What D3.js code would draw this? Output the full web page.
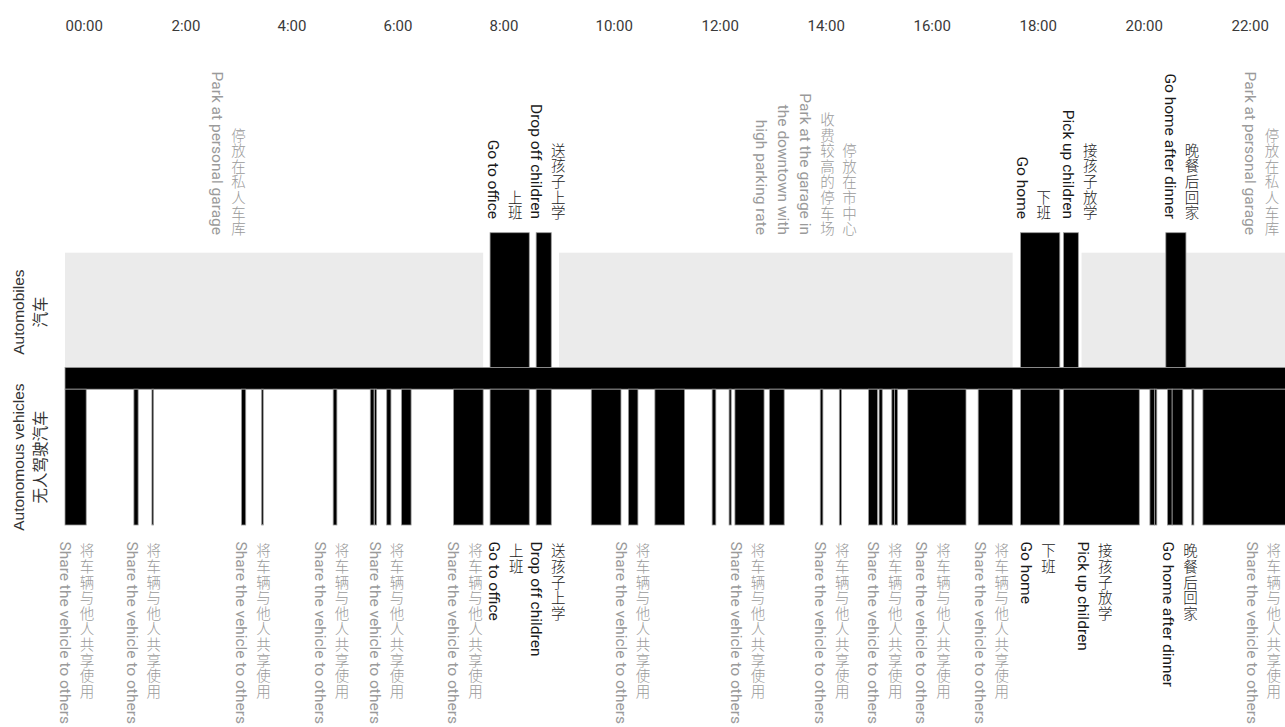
<!DOCTYPE html>
<html>
<head>
<meta charset="utf-8">
<script src="https://cdn.jsdelivr.net/npm/d3@7"></script>
<style>
  body { margin: 0; background: #fff; }
  svg { display: block; }
</style>
</head>
<body>
<svg id="chart"></svg>
<script>
// hours of the day on the axis
const tickHours = [0, 2, 4, 6, 8, 10, 12, 14, 16, 18, 20, 22];
const tickLabels = ["00:00", "2:00", "4:00", "6:00", "8:00", "10:00", "12:00", "14:00", "16:00", "18:00", "20:00", "22:00"];

// row names
const rowNames = [["Automobiles", "汽车"], ["Autonomous vehicles", "无人驾驶汽车"]];

// automobiles: parked (grey) and driving (black), [start, end] in hours
const carParked = [[0, 7.89], [9.32, 17.88], [19.18, 20.77], [21.15, 24]];
const carDriving = [[8.02, 8.76], [8.89, 9.175], [18.03, 18.77], [18.84, 19.12], [20.77, 21.15]];

// autonomous vehicles: busy periods [start, end] in hours
const avBusy = [
  [0, 0.40], [1.30, 1.38], [1.64, 1.67], [3.33, 3.41], [3.71, 3.74],
  [5.06, 5.13], [5.76, 5.83], [5.84, 5.88], [6.07, 6.15], [6.35, 6.53],
  [7.33, 7.89], [8.02, 8.76], [8.89, 9.175], [9.93, 10.49], [10.63, 10.81],
  [11.13, 11.69], [12.21, 12.28], [12.53, 12.57], [12.64, 13.19], [13.29, 13.57],
  [14.25, 14.30], [14.61, 14.65], [15.16, 15.33], [15.36, 15.42], [15.60, 15.65],
  [15.65, 15.71], [15.90, 17.00], [17.23, 17.88], [18.03, 18.77], [18.84, 20.27],
  [20.47, 20.56], [20.56, 20.60], [20.80, 20.89], [20.89, 21.09], [21.26, 21.30],
  [21.47, 24]
];

// labels: t = hour of the last (leftmost) line, lines in reading order
const share = ["将车辆与他人共享使用", "Share the vehicle to others"];
const carLabels = [
  { t: 2.86, grey: true, lines: ["停放在私人车库", "Park at personal garage"] },
  { t: 8.08, grey: false, lines: ["上班", "Go to office"] },
  { t: 8.89, grey: false, lines: ["送孩子上学", "Drop off children"] },
  { t: 13.14, grey: true, lines: ["停放在市中心", "收费较高的停车场", "Park at the garage in", "the downtown with", "high parking rate"] },
  { t: 18.05, grey: false, lines: ["下班", "Go home"] },
  { t: 18.93, grey: false, lines: ["接孩子放学", "Pick up children"] },
  { t: 20.85, grey: false, lines: ["晚餐后回家", "Go home after dinner"] },
  { t: 22.36, grey: true, lines: ["停放在私人车库", "Park at personal garage"] }
];
const avLabels = [
  { t: 0.0, grey: true, lines: share },
  { t: 1.26, grey: true, lines: share },
  { t: 3.33, grey: true, lines: share },
  { t: 4.81, grey: true, lines: share },
  { t: 5.85, grey: true, lines: share },
  { t: 7.33, grey: true, lines: share },
  { t: 8.10, grey: false, lines: ["上班", "Go to office"] },
  { t: 8.89, grey: false, lines: ["送孩子上学", "Drop off children"] },
  { t: 10.49, grey: true, lines: share },
  { t: 12.66, grey: true, lines: share },
  { t: 14.25, grey: true, lines: share },
  { t: 15.25, grey: true, lines: share },
  { t: 16.16, grey: true, lines: share },
  { t: 17.26, grey: true, lines: share },
  { t: 18.14, grey: false, lines: ["下班", "Go home"] },
  { t: 19.21, grey: false, lines: ["接孩子放学", "Pick up children"] },
  { t: 20.82, grey: false, lines: ["晚餐后回家", "Go home after dinner"] },
  { t: 22.39, grey: true, lines: share }
];

const width = 1285, height = 727;
const svg = d3.select("#chart").attr("width", width).attr("height", height);

const x = d3.scaleLinear().domain([0, 24]).range([65, 65 + 24 * 53]);

const latinFont = "Roboto, sans-serif";
const cjkFont = "'Noto Sans CJK SC', sans-serif";
const isCJK = s => /[\u4e00-\u9fff]/.test(s);
const lineGap = 22;
const fontSize = 15.5;
const cjkSize = 14.5;
const charStep = 15.6;

// layout
const driveTop = 232.7, parkTop = 252.7, roadTop = 367.5, roadBottom = 389.2, avBottom = 525;

// time axis
const axis = d3.axisTop(x)
  .tickValues(tickHours)
  .tickFormat((d, i) => tickLabels[i])
  .tickSize(0)
  .tickPadding(0);

const gAxis = svg.append("g")
  .attr("transform", "translate(0, 31)")
  .call(axis);
gAxis.select(".domain").remove();
gAxis.selectAll("text")
  .attr("text-anchor", "start")
  .attr("dy", 0)
  .attr("font-family", latinFont)
  .attr("font-size", "15px")
  .attr("fill", "#3a3a3a");

// parked segments
svg.append("g").selectAll("rect")
  .data(carParked)
  .join("rect")
  .attr("x", d => x(d[0]))
  .attr("y", parkTop)
  .attr("width", d => x(d[1]) - x(d[0]))
  .attr("height", roadTop - parkTop)
  .attr("fill", "#ebebeb");

// driving segments
svg.append("g").selectAll("rect")
  .data(carDriving)
  .join("rect")
  .attr("x", d => x(d[0]))
  .attr("y", driveTop)
  .attr("width", d => x(d[1]) - x(d[0]))
  .attr("height", roadTop - driveTop)
  .attr("fill", "#000")
  .attr("stroke", "#999")
  .attr("stroke-width", 0.8);

// the road between the two rows
svg.append("rect")
  .attr("x", x(0))
  .attr("y", roadTop)
  .attr("width", x(24) - x(0))
  .attr("height", roadBottom - roadTop)
  .attr("fill", "#000")
  .attr("stroke", "#999")
  .attr("stroke-width", 0.8);

// autonomous vehicle busy periods
svg.append("g").selectAll("rect")
  .data(avBusy)
  .join("rect")
  .attr("x", d => x(d[0]))
  .attr("y", roadBottom)
  .attr("width", d => x(d[1]) - x(d[0]))
  .attr("height", avBottom - roadBottom)
  .attr("fill", "#000")
  .attr("stroke", "#999")
  .attr("stroke-width", 0.8);

// vertical labels: chinese stacked upright (one tspan per char), latin turned 90deg
// top labels end at yEnd, bottom labels start at pos.start
function drawLabels(labels, pos) {
  const g = svg.append("g");
  labels.forEach(l => {
    const n = l.lines.length;
    const fill = l.grey ? "#9a9a9a" : "#1a1a1a";
    const yEnd = l.grey ? pos.greyEnd : pos.end;
    l.lines.forEach((text, i) => {
      const cx = x(l.t) + (n - 1 - i) * lineGap;
      if (isCJK(text)) {
        const chars = Array.from(text);
        const y0 = pos.start != null ? pos.start : yEnd - chars.length * charStep;
        g.append("text")
          .attr("text-anchor", "middle")
          .attr("dominant-baseline", "central")
          .attr("font-family", cjkFont)
          .attr("font-weight", 300)
          .attr("font-size", cjkSize + "px")
          .attr("fill", fill)
          .selectAll("tspan")
          .data(chars)
          .join("tspan")
          .attr("x", cx)
          .attr("y", (c, k) => y0 + (k + 0.5) * charStep)
          .text(c => c);
      } else {
        const y = pos.start != null ? pos.start : yEnd;
        g.append("text")
          .attr("transform", `translate(${cx}, ${y}) rotate(90)`)
          .attr("text-anchor", pos.start != null ? "start" : "end")
          .attr("dominant-baseline", "central")
          .attr("font-family", latinFont)
          .attr("font-size", fontSize + "px")
          .attr("fill", fill)
          .text(text);
      }
    });
  });
}

drawLabels(carLabels, { end: 219, greyEnd: 235, start: null });
drawLabels(avLabels, { start: 541.5 });

// row titles
const rowCenters = [(parkTop + roadTop) / 2 + 2, (roadBottom + avBottom) / 2];
rowNames.forEach((names, r) => {
  names.forEach((name, i) => {
    svg.append("text")
      .attr("transform", `translate(${18.5 + i * 22}, ${rowCenters[r]}) rotate(-90)`)
      .attr("text-anchor", "middle")
      .attr("dominant-baseline", "central")
      .attr("font-family", "'Liberation Sans', 'Noto Sans CJK SC', sans-serif")
      .attr("font-size", "15.5px")
      .attr("fill", "#333")
      .text(name);
  });
});
</script>
</body>
</html>
